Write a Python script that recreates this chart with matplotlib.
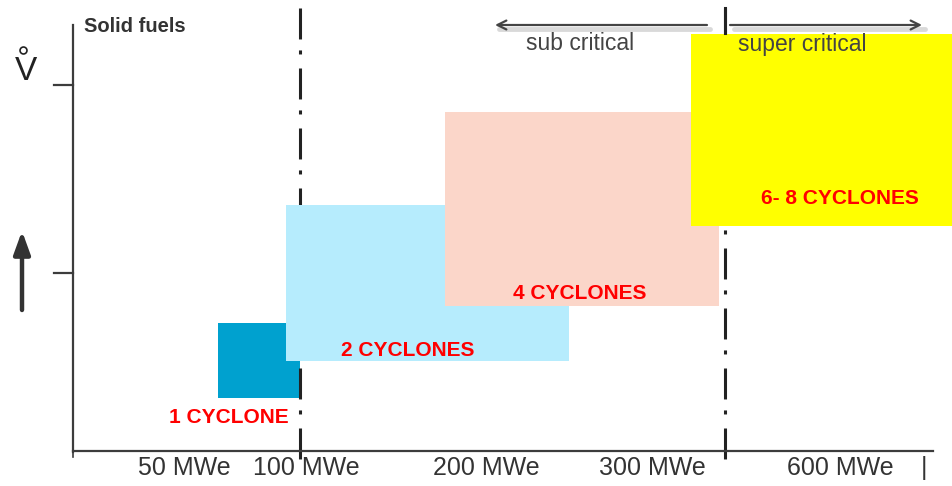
import matplotlib
matplotlib.use("Agg")
import matplotlib.pyplot as plt

plt.rcParams["font.family"] = ["Liberation Sans", "DejaVu Sans"]
plt.rcParams["lines.scale_dashes"] = False

# cyclone count ranges, drawn in a 952 x 486 schematic space (y grows downwards)
cyclone_labels = ["1 CYCLONE", "2 CYCLONES", "4 CYCLONES", "6- 8 CYCLONES"]
box_left = [218, 286, 445, 691]
box_right = [300, 569, 719, 952]
box_top = [323, 205, 112, 34]
box_bottom = [398, 361, 306, 226]
label_x = [229, 408, 580, 840]
label_y = [417, 350, 293, 198]

# power classes along the bottom
power_labels = ["50 MWe", "100 MWe", "200 MWe", "300 MWe", "600 MWe", "|"]
power_pos = [184, 306, 486, 652, 840, 924]

# sub / super critical boundary and the 100 MWe marker
boundary_x = [300, 725]

BOX_COLORS = ["#00A1CF", "#B6ECFD", "#FBD6C9", "#FFFF00"]
BOX_Z = [1, 3, 4, 5]
RED = "#FF0000"
GREY = "#3c3c3c"

fig = plt.figure(figsize=(9.52, 4.86), dpi=100)
ax = fig.add_axes([0, 0, 1, 1])
ax.set_xlim(0, 952)
ax.set_ylim(486, 0)
ax.axis("off")

# boxes
for lab, x0, x1, y0, y1, c, z, tx, ty in zip(cyclone_labels, box_left, box_right,
                                             box_top, box_bottom, BOX_COLORS, BOX_Z,
                                             label_x, label_y):
    ax.bar(x0, y1 - y0, width=x1 - x0, bottom=y0, align="edge",
           color=c, edgecolor="none", zorder=z)
    ax.text(tx, ty, lab, color=RED, fontsize=15, fontweight="bold",
            ha="center", va="center", zorder=z + 0.5)

# dash-dot boundary lines
for bx in boundary_x:
    ax.plot([bx, bx], [8, 462], color="#222222", lw=2.2,
            dashes=(22.3, 7.9, 2.9, 10.1), solid_capstyle="butt",
            dash_capstyle="butt", zorder=2)

# axes lines
ax.plot([73, 73], [25, 452], color=GREY, lw=1.6, zorder=6)
ax.plot([73, 933], [451, 451], color=GREY, lw=1.6, zorder=6)
for ty in [85, 273]:
    ax.plot([54, 73], [ty, ty], color=GREY, lw=1.6, zorder=6)
ax.plot([73, 73], [451, 457], color=GREY, lw=1.2, zorder=6)

# power labels
for lab, px in zip(power_labels, power_pos):
    ax.text(px, 468, lab, color="#333333", fontsize=18, ha="center", va="center")

# y-axis symbol (V with a ring on top) and arrow
ax.text(26, 71, "V", fontsize=24, color="#222222", ha="center", va="center")
ax.plot(23, 50, marker="o", ms=5, mfc="none", mec="#222222", mew=1.2)
ax.annotate("", xy=(22, 231), xytext=(22, 310),
            arrowprops=dict(arrowstyle="-|>,head_length=0.55,head_width=0.2",
                            lw=3.2, color="#333333", mutation_scale=25,
                            shrinkA=0, shrinkB=0))

ax.text(84, 27, "Solid fuels", fontsize=14.5, fontweight="bold",
        color="#333333", ha="left", va="center")

# sub / super critical arrows with a soft shadow
for x_from, x_to in [(707, 495), (730, 922)]:
    ax.plot([min(x_from, x_to) + 4, max(x_from, x_to) + 3], [29, 29],
            color="#b5b5b5", lw=3.5, alpha=0.5, solid_capstyle="round", zorder=1)
    ax.annotate("", xy=(x_to, 25), xytext=(x_from, 25),
                arrowprops=dict(arrowstyle="->", lw=1.6, color="#444444",
                                mutation_scale=16, shrinkA=0, shrinkB=0),
                zorder=7)
ax.plot([725, 725], [8, 33], color="#222222", lw=2.2, zorder=7)

ax.text(580, 44, "sub critical", fontsize=16.5, color="#444444",
        ha="center", va="center", zorder=7)
ax.text(802, 45, "super critical", fontsize=16.5, color="#444444",
        ha="center", va="center", zorder=7)

fig.savefig("out.png", dpi=100)
